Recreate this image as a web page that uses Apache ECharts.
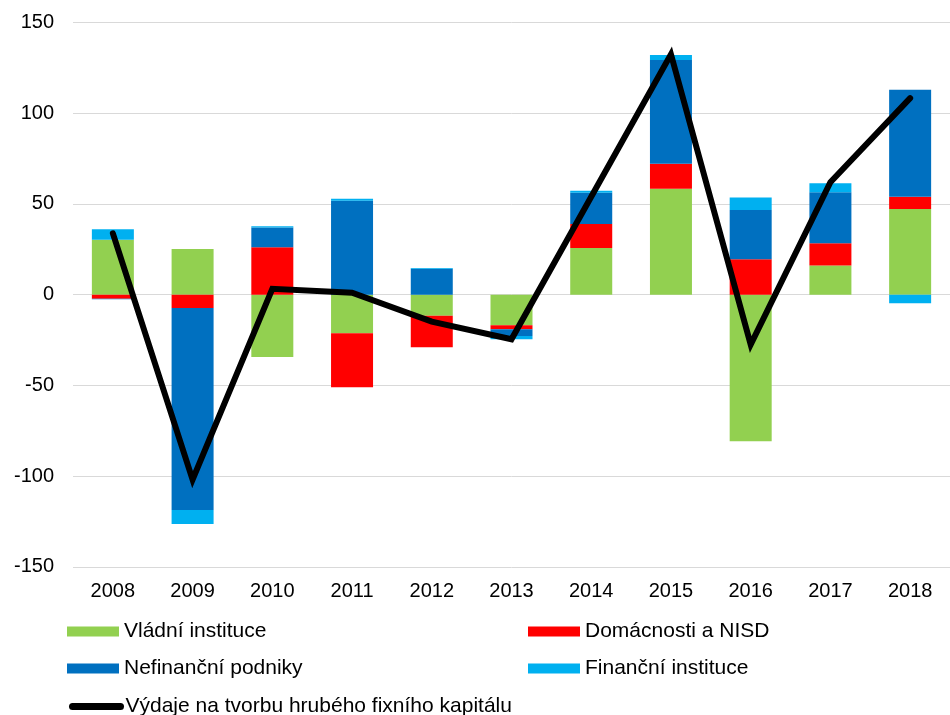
<!DOCTYPE html>
<html>
<head>
<meta charset="utf-8">
<script src="https://cdn.jsdelivr.net/npm/echarts@6/dist/echarts.min.js"></script>
<style>html,body{margin:0;padding:0;background:#fff;}#c{width:950px;height:715px;}</style>
</head>
<body>
<div id="c"></div>
<script>
var categories = ['2008','2009','2010','2011','2012','2013','2014','2015','2016','2017','2018'];
var vladni      = [30.2, 25.2, -34.3, -21.3, -11.6, -16.9, 25.7, 58.3, -80.8, 16.0, 47.2];
var domacnosti  = [-2.2, -7.3, 26.1, -29.7, -17.4, -2.2, 13.3, 13.8, 19.5, 12.3, 6.8];
var nefinancni  = [-0.4, -111.4, 10.9, 51.8, 14.3, -3.7, 17.2, 57.3, 27.2, 28.1, 59.0];
var financni    = [5.8, -7.7, 0.7, 1.0, 0.4, -1.8, 1.0, 2.7, 6.8, 5.0, -4.7];
var vydaje      = [33.8, -102, 3.2, 1.1, -14.9, -24.6, 54, 132.5, -27.5, 62, 108.3];
var yTicks = {min: -150, max: 150, interval: 50};

var names = ['Vládní instituce','Domácnosti a NISD','Nefinanční podniky','Finanční instituce','Výdaje na tvorbu hrubého fixního kapitálu'];
var colors = ['#92d050','#ff0000','#0070c0','#00b0f0','#000000'];
var font = 'Liberation Sans, Arial, sans-serif';

function bar(name, data, color) {
  return {name: name, type: 'bar', stack: 'total', data: data, barWidth: 42,
    itemStyle: {color: color}, emphasis: {disabled: true}};
}
function leg(name, left, top, extra) {
  var o = {data: [name], left: left, top: top, itemWidth: 52, itemHeight: 10, itemGap: 0,
    padding: 0, selectedMode: false, icon: 'rect',
    textStyle: {fontFamily: font, fontSize: 21, color: '#000', padding: [0, 0, 0, 0]},
    lineStyle: {width: 7, cap: 'round'}};
  if (extra) { for (var k in extra) o[k] = extra[k]; }
  return o;
}

var chart = echarts.init(document.getElementById('c'), null, {renderer: 'canvas'});
chart.setOption({
  animation: false,
  backgroundColor: '#fff',
  grid: {left: 73, top: 22.5, width: 885.5, height: 544.3, containLabel: false},
  xAxis: {type: 'category', data: categories,
    axisLine: {show: false}, axisTick: {show: false},
    axisLabel: {margin: 15, fontFamily: font, fontSize: 20, color: '#000'}},
  yAxis: {type: 'value', min: yTicks.min, max: yTicks.max, interval: yTicks.interval,
    axisLine: {show: false}, axisTick: {show: false},
    axisLabel: {margin: 19, fontFamily: font, fontSize: 20, color: '#000'},
    splitLine: {lineStyle: {color: '#d9d9d9', width: 1}}},
  legend: [
    leg(names[0], 67, 621),
    leg(names[1], 528, 621),
    leg(names[2], 67, 658),
    leg(names[3], 528, 658),
    leg(names[4], 69, 696, {itemWidth: 48, icon: null, itemStyle: {opacity: 0}})
  ],
  series: [
    bar(names[0], vladni, colors[0]),
    bar(names[1], domacnosti, colors[1]),
    bar(names[2], nefinancni, colors[2]),
    bar(names[3], financni, colors[3]),
    {name: names[4], type: 'line', data: vydaje, symbol: 'none', z: 10,
      lineStyle: {color: '#000', width: 6, cap: 'round', join: 'miter'},
      itemStyle: {color: '#000'}, emphasis: {disabled: true}}
  ]
});
</script>
</body>
</html>
